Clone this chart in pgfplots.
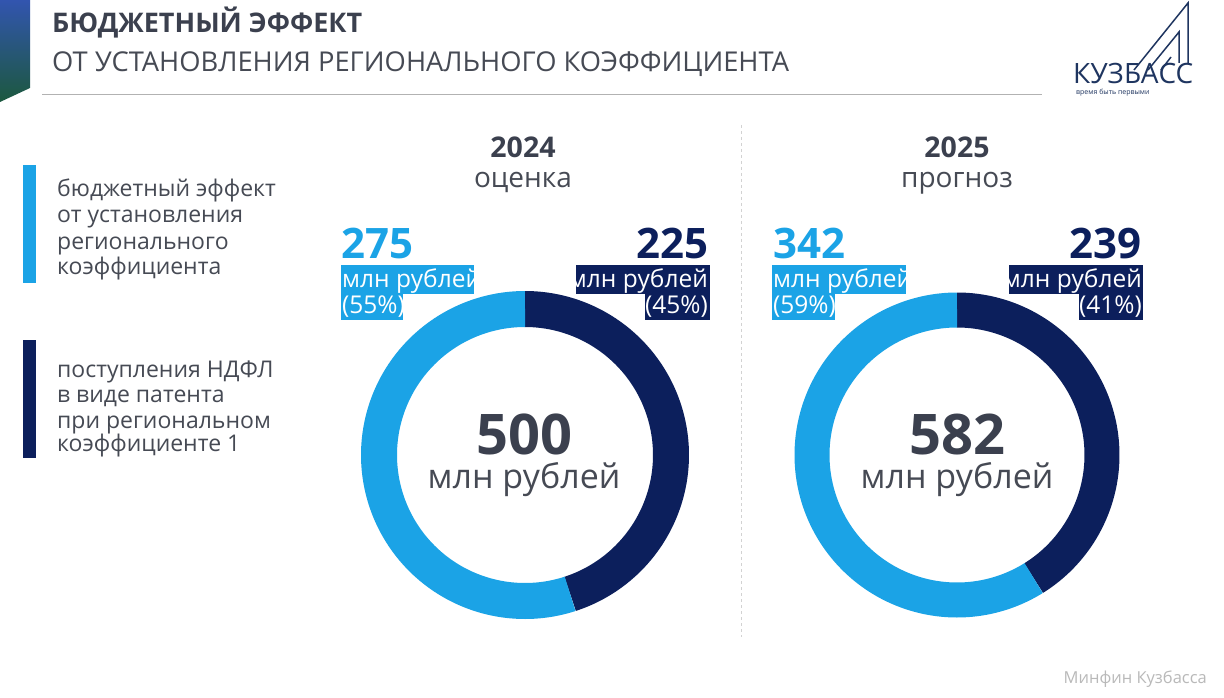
\documentclass[border=0pt]{standalone}
\usepackage{fontspec}
\setmainfont{Open Sans}
\usepackage{pgfplots}
\pgfplotsset{compat=1.18}
\usepgfplotslibrary{polar}
\definecolor{lblue}{RGB}{27,163,230}
\definecolor{navy}{RGB}{12,31,92}
\definecolor{tgray}{RGB}{59,64,78}
\definecolor{lgray}{RGB}{70,74,84}
\definecolor{logo}{RGB}{31,53,96}
% data: regional coefficient effect, NDFL patent at coefficient 1
\def\regA{275}\def\baseA{225}\def\totA{500}
\def\regB{342}\def\baseB{239}\def\totB{581}
\newcommand{\fs}[1]{\fontsize{#1pt}{#1pt}\selectfont}
\begin{document}
\begin{tikzpicture}[x=1pt,y=1pt]
\useasboundingbox (0,0) rectangle (1224,697);
\fill[white] (0,0) rectangle (1224,697);
% corner ribbon
\shade[top color={rgb,255:red,50;green,85;blue,175}, bottom color={rgb,255:red,28;green,88;blue,62}]
  (0,697) -- (30,697) -- (30,609) -- (0,595) -- cycle;
% title
\node[anchor=base west, inner sep=0, text=tgray, font=\fs{27}\bfseries] at (52,664) {БЮДЖЕТНЫЙ ЭФФЕКТ};
\node[anchor=base west, inner sep=0, text=lgray, font=\fs{27.3}] at (52,625) {ОТ УСТАНОВЛЕНИЯ РЕГИОНАЛЬНОГО КОЭФФИЦИЕНТА};
\draw[gray!60, line width=1pt] (42,602) -- (1042,602);
% logo
\begin{scope}[logo, line width=1.5pt]
  \draw (1134,627) -- (1188,694) -- (1188,634);
  \draw (1148,627) -- (1179,665) -- (1179,634);
  \draw (1161,627) -- (1171,640);
\end{scope}
\node[anchor=base west, inner sep=0, text=logo, font=\fs{28}] at (1073,613) {КУЗБАСС};
\node[anchor=base west, inner sep=0, text=logo, font=\fs{7}] at (1076,602) {время быть первыми};
% divider
\draw[gray!35, dashed, line width=1pt] (741,572) -- (741,60);
% legend
\fill[lblue] (23,532) rectangle (36,414);
\fill[navy] (23,357) rectangle (36,239);
\begin{scope}[every node/.style={anchor=base west, inner sep=0, text=lgray, font=\fs{23}}]
\node at (57,500) {бюджетный эффект};
\node at (57,474) {от установления};
\node at (57,447) {регионального};
\node at (57,422) {коэффициента};
\node at (57,319) {поступления НДФЛ};
\node at (57,294) {в виде патента};
\node at (57,269) {при региональном};
\node at (57,245) {коэффициенте 1};
\end{scope}
% donut 2024
\begin{polaraxis}[at={(525pt,242pt)}, anchor=origin, hide axis, scale only axis,
  width=400pt, height=400pt, xmin=0, xmax=360, ymin=0, ymax=200, clip=false]
\addplot[navy, line width=36pt, no markers, samples=150, domain={90-360*\baseA/\totA}:90] {146};
\addplot[lblue, line width=36pt, no markers, samples=200, domain={-270}:{90-360*\baseA/\totA}] {146};
\end{polaraxis}
% donut 2025
\begin{polaraxis}[at={(957pt,242pt)}, anchor=origin, hide axis, scale only axis,
  width=400pt, height=400pt, xmin=0, xmax=360, ymin=0, ymax=200, clip=false]
\addplot[navy, line width=35pt, no markers, samples=150, domain={90-360*\baseB/\totB}:90] {145};
\addplot[lblue, line width=35pt, no markers, samples=200, domain={-270}:{90-360*\baseB/\totB}] {145};
\end{polaraxis}
% headers
\node[anchor=base, inner sep=0, text=tgray, font=\fs{28.5}\bfseries] at (523,539) {2024};
\node[anchor=base, inner sep=0, text=lgray, font=\fs{28}] at (523,509) {оценка};
\node[anchor=base, inner sep=0, text=tgray, font=\fs{28.5}\bfseries] at (957,539) {2025};
\node[anchor=base, inner sep=0, text=lgray, font=\fs{28}] at (957,509) {прогноз};
% labels 2024
\node[anchor=base west, inner sep=0, text=lblue, font=\fs{42}\bfseries] at (341,438) {275};
\fill[lblue] (341,432) rectangle (474,403);
\fill[lblue] (341,403) rectangle (403,377);
\node[anchor=base west, inner sep=0, text=white, font=\fs{24.5}] at (342,409) {млн рублей};
\node[anchor=base west, inner sep=0, text=white, font=\fs{24.5}] at (342,383) {(55\%)};
\node[anchor=base east, inner sep=0, text=navy, font=\fs{42}\bfseries] at (709,438) {225};
\fill[navy] (576,432) rectangle (710,403);
\fill[navy] (645,403) rectangle (710,377);
\node[anchor=base east, inner sep=0, text=white, font=\fs{24.5}] at (708,409) {млн рублей};
\node[anchor=base east, inner sep=0, text=white, font=\fs{24.5}] at (708,383) {(45\%)};
% labels 2025
\node[anchor=base west, inner sep=0, text=lblue, font=\fs{42}\bfseries] at (773,438) {342};
\fill[lblue] (772,432) rectangle (906,403);
\fill[lblue] (772,403) rectangle (835,377);
\node[anchor=base west, inner sep=0, text=white, font=\fs{24.5}] at (773,409) {млн рублей};
\node[anchor=base west, inner sep=0, text=white, font=\fs{24.5}] at (773,383) {(59\%)};
\node[anchor=base east, inner sep=0, text=navy, font=\fs{42}\bfseries] at (1142,438) {239};
\fill[navy] (1009,432) rectangle (1143,403);
\fill[navy] (1079,403) rectangle (1143,377);
\node[anchor=base east, inner sep=0, text=white, font=\fs{24.5}] at (1142,409) {млн рублей};
\node[anchor=base east, inner sep=0, text=white, font=\fs{24.5}] at (1142,383) {(41\%)};
% centers
\node[anchor=base, inner sep=0, text=tgray, font=\fs{56}\bfseries] at (524,242) {500};
\node[anchor=base, inner sep=0, text=lgray, font=\fs{34}] at (524,208) {млн рублей};
\node[anchor=base, inner sep=0, text=tgray, font=\fs{56}\bfseries] at (957,242) {582};
\node[anchor=base, inner sep=0, text=lgray, font=\fs{34}] at (957,208) {млн рублей};
% source
\node[anchor=base east, inner sep=0, text=gray!55, font=\fs{16.5}] at (1207,14) {Минфин Кузбасса};
\end{tikzpicture}
\end{document}
